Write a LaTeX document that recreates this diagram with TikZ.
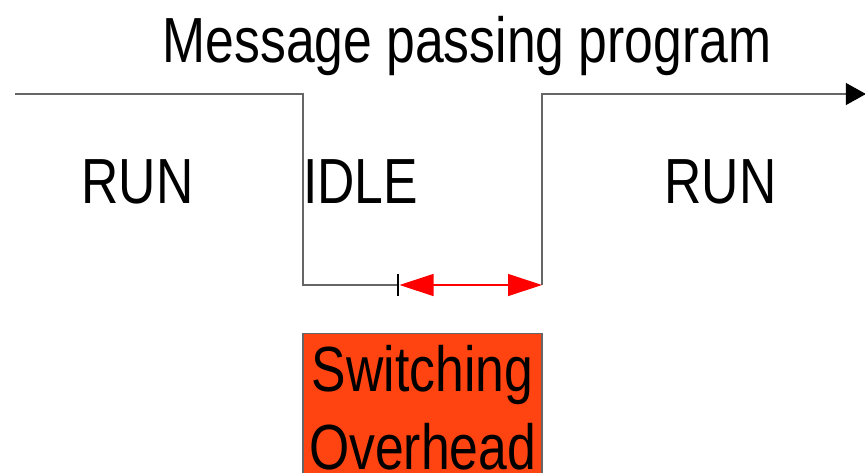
\documentclass[tikz,border=0pt]{standalone}
\usepackage{fontspec}
\usepackage{tikz}
\usetikzlibrary{arrows.meta, positioning, calc}
\newfontfamily\narrowsans{Liberation Sans}[FakeStretch=0.81]
\definecolor{stepgray}{HTML}{666666}
\definecolor{ovhred}{HTML}{FF4411}
\definecolor{arrred}{HTML}{FF0000}

\begin{document}
\begin{tikzpicture}[
    x=0.2mm, y=-0.2mm,
    every node/.style={font=\narrowsans\fontsize{36.3}{44.2}\selectfont, inner sep=0pt},
    stepline/.style={draw=stepgray, line width=0.6pt},
    label/.style={anchor=base},
    ovhbox/.style={draw=stepgray, line width=0.6pt, fill=ovhred, anchor=north,
                   minimum width=47.8mm, inner xsep=0pt, inner ysep=6.8pt, align=center},
    redtip/.style={Triangle[length=6.8mm, width=4.4mm]},
]
\clip (0,0) rectangle (865,472);

% time line of the program
\coordinate (start)  at (15,94);
\coordinate (stopA)  at (303,94);
\coordinate (lowA)   at (303,285);
\coordinate (tick)   at (398,285);
\coordinate (lowB)   at (542,285);
\coordinate (stopB)  at (542,94);
\coordinate (finish) at (865,94);

\node[label] (title) at (467,62) {Message passing program};
\node[label] (runA)  at (137.5,203) {RUN};
\node[label] (idle)  at (360.5,203) {IDLE};
\node[label] (runB)  at (720.5,203) {RUN};

\draw[stepline] (start) -- (stopA) -- (lowA) -- (tick);
\draw[stepline, -{Triangle[length=4mm, width=4.4mm, color=black]}, shorten >=-0.5pt]
    (lowB) -- (stopB) -- (finish);
\draw[line width=1.4pt, black] ($(tick)+(0,-11)$) -- ($(tick)+(0,11)$);
\draw[draw=arrred, line width=0.7pt,
      {Triangle[length=6.8mm, width=4.4mm]}-{Triangle[length=6.8mm, width=4.4mm]}]
    ($(tick)+(1.5,0)$) -- (lowB);

\node[ovhbox] (ovh) at (422.5,333) {Switching\\Overhead};
\end{tikzpicture}
\end{document}
